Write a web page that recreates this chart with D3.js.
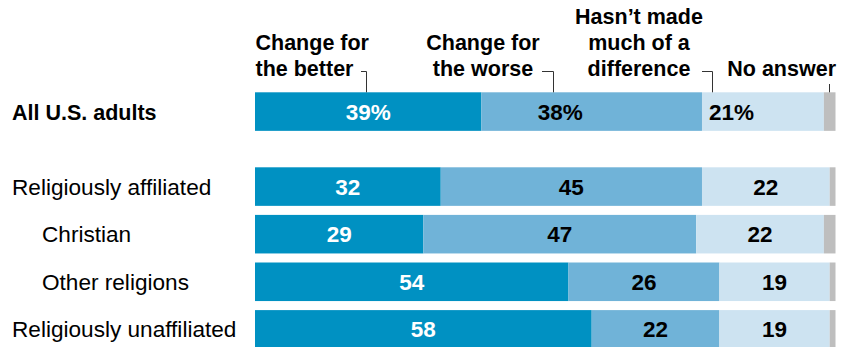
<!DOCTYPE html>
<html>
<head>
<meta charset="utf-8">
<script src="https://cdn.jsdelivr.net/npm/d3@7"></script>
<style>
  html, body { margin: 0; padding: 0; background: #fff; }
  svg { display: block; font-family: "Liberation Sans", Arial, sans-serif; }
</style>
</head>
<body>
<svg id="chart" width="848" height="347"></svg>
<script>
// ---- Data ----
const rows = ["All U.S. adults", "Religiously affiliated", "Christian", "Other religions", "Religiously unaffiliated"];
const series = ["Change for the better", "Change for the worse", "Hasn\u2019t made much of a difference", "No answer"];
const better     = [39, 32, 29, 54, 58];
const worse      = [38, 45, 47, 26, 22];
const noDiff     = [21, 22, 22, 19, 19];
const noAnswer   = [2, 1, 2, 1, 1];
const headerLines = [["Change for", "the better"], ["Change for", "the worse"], ["Hasn\u2019t made", "much of a", "difference"], ["No answer"]];

// ---- Layout / style ----
const W = 848, H = 347;
const colors = ["#0091c2", "#70b3d8", "#cde3f1", "#bebebe"];
const textColors = ["#ffffff", "#000000", "#000000", null];
const rowStyle = [
  { bold: true,  indent: 12, size: 21.5 },
  { bold: false, indent: 12, size: 22.6 },
  { bold: false, indent: 42, size: 22.6 },
  { bold: false, indent: 42, size: 22.6 },
  { bold: false, indent: 12, size: 22.6 }
];
const firstRowGap = 27.4;   // extra space after the "All" row
const allRowShift = [0, -31.5, -31.5, 0]; // label shift on the All row

const svg = d3.select("#chart");

const x = d3.scaleLinear().domain([0, 100]).range([255, 835.5]);
const y = d3.scaleBand().domain(rows).range([92.3, 92.3 + 47.6 * (5 - 0.19)]).paddingInner(0.19).paddingOuter(0);
const yPos = (r, i) => y(r) + (i > 0 ? firstRowGap : 0);

const data = rows.map((r, i) => ({ row: r, i, vals: [better[i], worse[i], noDiff[i], noAnswer[i]] }));
const stack = d3.stack().keys([0, 1, 2, 3]).value((d, k) => d.vals[k]);
const stacked = stack(data);

// bars
const g = svg.append("g");
stacked.forEach((layer, k) => {
  g.selectAll(null).data(layer).enter().append("rect")
    .attr("x", d => x(d[0]))
    .attr("y", d => yPos(d.data.row, d.data.i))
    .attr("width", d => x(d[1]) - x(d[0]))
    .attr("height", y.bandwidth())
    .attr("fill", colors[k]);
});

// value labels
stacked.forEach((layer, k) => {
  if (!textColors[k]) return;
  g.selectAll(null).data(layer).enter().append("text")
    .attr("x", d => (x(d[0]) + x(d[1])) / 2 + (d.data.i === 0 ? allRowShift[k] : 0))
    .attr("y", d => yPos(d.data.row, d.data.i) + y.bandwidth() / 2 + 8)
    .attr("text-anchor", "middle")
    .attr("font-size", 22.5)
    .attr("font-weight", "bold")
    .attr("fill", textColors[k])
    .text(d => d.data.vals[k] + (d.data.i === 0 ? "%" : ""));
});

// row labels
svg.selectAll(".rowlab").data(rows).enter().append("text")
  .attr("class", "rowlab")
  .attr("x", (d, i) => rowStyle[i].indent)
  .attr("y", (d, i) => yPos(d, i) + y.bandwidth() / 2 + 8)
  .attr("font-size", (d, i) => rowStyle[i].size)
  .attr("font-weight", (d, i) => rowStyle[i].bold ? "bold" : "normal")
  .attr("fill", "#000")
  .text(d => d);

// header labels with leader lines
const lineH = 26;
const lastBase = 76;
const headerAnchor = [
  { x: 255.5, anchor: "start",  leaderX: 366, hx0: 361 },
  { x: 483,   anchor: "middle", leaderX: 553, hx0: 542 },
  { x: 639,   anchor: "middle", leaderX: 712, hx0: 702 },
  { x: 836,   anchor: "end",    leaderX: 829, hx0: null }
];
headerLines.forEach((lines, k) => {
  const a = headerAnchor[k];
  const t = svg.append("text")
    .attr("text-anchor", a.anchor)
    .attr("font-size", 21.5)
    .attr("font-weight", "bold")
    .attr("fill", "#000");
  lines.forEach((ln, j) => {
    t.append("tspan")
      .attr("x", a.x)
      .attr("y", lastBase - (lines.length - 1 - j) * lineH)
      .text(ln);
  });
  const top = y(rows[0]);
  if (a.hx0 !== null) {
    svg.append("path")
      .attr("d", `M${a.hx0},71.5H${a.leaderX + 0.5}V${top}`)
      .attr("fill", "none").attr("stroke", "#333").attr("stroke-width", 1);
  } else {
    svg.append("path")
      .attr("d", `M${a.leaderX + 0.5},84V${top}`)
      .attr("fill", "none").attr("stroke", "#333").attr("stroke-width", 1);
  }
});
</script>
</body>
</html>
